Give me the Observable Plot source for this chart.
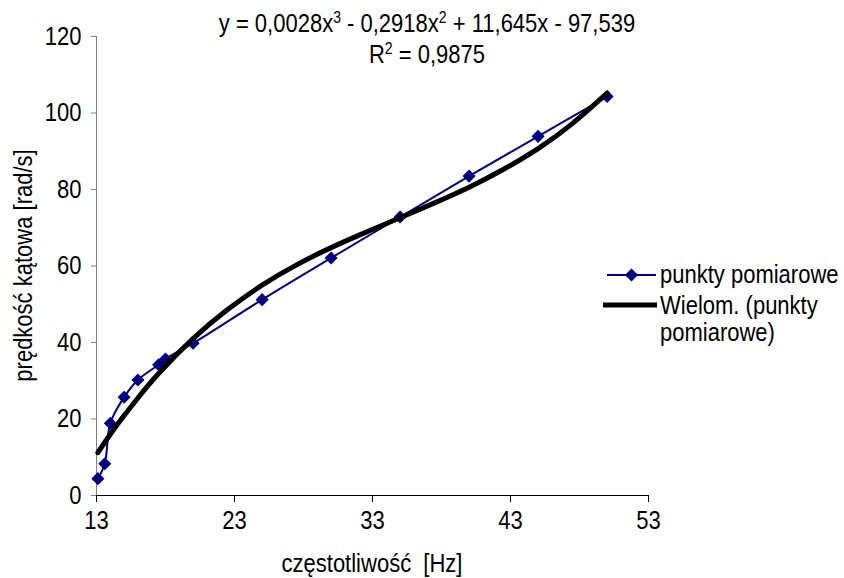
<!DOCTYPE html>
<html><head><meta charset="utf-8">
<script src="https://cdn.jsdelivr.net/npm/d3@7"></script>
<script src="https://cdn.jsdelivr.net/npm/@observablehq/plot@0.6"></script>
<style>
html,body{margin:0;padding:0;background:#fff;}
svg text{white-space:pre;}
</style>
</head><body><div id="chart"></div>
<script>
// measured points (punkty pomiarowe)
const frequency = [13.1, 13.6, 14.0, 15.0, 16.0, 17.5, 18.0, 20.0, 25.0, 30.0, 35.0, 40.0, 45.0, 50.0];
const angularVelocity = [4.4, 8.3, 18.9, 25.7, 30.2, 34.2, 35.7, 39.8, 51.2, 62.1, 72.8, 83.5, 93.9, 104.3];
// polynomial trendline (Wielom.)
const trendX = [13.1, 14, 15, 16, 17.5, 20, 22.5, 25, 27.5, 30, 32.5, 35, 37.5, 40, 42.5, 45, 47.5, 50];
const trendY = [11.2, 16.0, 20.9, 25.5, 31.9, 41.0, 48.6, 55.0, 60.3, 64.8, 68.8, 72.6, 76.5, 80.6, 85.3, 90.7, 97.3, 105.2];
// ticks
const xTicks = [13, 23, 33, 43, 53];
const yTicks = [0, 20, 40, 60, 80, 100, 120];
// texts
const xLabel = "częstotliwość  [Hz]";
const yLabel = "prędkość kątowa [rad/s]";
const seriesName = "punkty pomiarowe";
const trendNameLines = ["Wielom. (punkty", "pomiarowe)"];

const FONT = "'Liberation Sans', Arial, Helvetica, sans-serif";
const FS = 22;      // horizontal size
const VS = 25;      // vertical size (text in the reference is a little tall)
const W = 844, H = 578, ML = 96, MR = 196, MT = 36, MB = 83;

const points = frequency.map((f, i) => ({x: f, y: angularVelocity[i]}));
const trend = trendX.map((f, i) => ({x: f, y: trendY[i]}));

const svg = Plot.plot({
  width: W, height: H,
  marginLeft: ML, marginRight: MR, marginTop: MT, marginBottom: MB,
  style: {fontFamily: FONT, fontSize: FS + "px", color: "#000", background: "#fff", overflow: "visible"},
  x: {domain: [13, 53]},
  y: {domain: [0, 120]},
  marks: [
    Plot.axisY({ticks: yTicks, tickSize: 5, tickPadding: 10, stroke: "#808080", fill: "#000", label: null, fontSize: FS}),
    Plot.ruleX([13], {stroke: "#808080", strokeWidth: 1}),
    Plot.axisX({ticks: xTicks, tickSize: 7, tickPadding: 9, stroke: "#000", fill: "#000", label: null, fontSize: FS}),
    Plot.ruleY([0], {stroke: "#000", strokeWidth: 1}),
    Plot.line(points, {x: "x", y: "y", stroke: "#000080", strokeWidth: 2, curve: "catmull-rom"}),
    Plot.dot(points, {x: "x", y: "y", symbol: "diamond2", r: 5.9, fill: "#000080", stroke: "none"}),
    Plot.line(trend, {x: "x", y: "y", stroke: "#000", strokeWidth: 5, curve: "natural"})
  ]
});
document.getElementById("chart").appendChild(svg);

const s = d3.select(svg);
const g = s.append("g").attr("font-family", FONT).attr("font-size", FS).attr("fill", "#000").attr("text-anchor", "start");

// equation
const eq = g.append("text").attr("x", 427).attr("y", 32).attr("text-anchor", "middle");
eq.append("tspan").text("y = 0,0028x");
eq.append("tspan").attr("dy", -9).attr("font-size", 14).text("3");
eq.append("tspan").attr("dy", 9).text(" - 0,2918x");
eq.append("tspan").attr("dy", -9).attr("font-size", 14).text("2");
eq.append("tspan").attr("dy", 9).text(" + 11,645x - 97,539");
const r2 = g.append("text").attr("x", 427).attr("y", 63).attr("text-anchor", "middle");
r2.append("tspan").text("R");
r2.append("tspan").attr("dy", -9).attr("font-size", 14).text("2");
r2.append("tspan").attr("dy", 9).text(" = 0,9875");

// axis titles
g.append("text").attr("x", (ML + W - MR) / 2).attr("y", 572).attr("text-anchor", "middle").text(xLabel);
g.append("text").attr("transform", `translate(32,${(MT + H - MB) / 2}) rotate(-90)`).attr("text-anchor", "middle").text(yLabel);

// legend
const lg = g.append("g");
lg.append("line").attr("x1", 607).attr("x2", 656).attr("y1", 275).attr("y2", 275).attr("stroke", "#000080").attr("stroke-width", 2);
lg.append("path").attr("transform", "translate(631.5,275)").attr("d", d3.symbol(d3.symbolDiamond2, Math.PI * 5.9 * 5.9)()).attr("fill", "#000080");
lg.append("text").attr("x", 660).attr("y", 283).text(seriesName);
lg.append("line").attr("x1", 603).attr("x2", 657).attr("y1", 305).attr("y2", 305).attr("stroke", "#000").attr("stroke-width", 5);
lg.append("text").attr("x", 660).attr("y", 314).text(trendNameLines[0]);
lg.append("text").attr("x", 660).attr("y", 341).text(trendNameLines[1]);

// make the glyphs a little taller while keeping their width (as in the reference)
const k = VS / FS;
svg.querySelectorAll("text").forEach(t => {
  const spans = t.querySelectorAll("tspan");
  if (spans.length) {
    spans.forEach(sp => {
      const len = sp.getComputedTextLength();
      const fs = parseFloat(sp.getAttribute("font-size") || FS);
      sp.setAttribute("font-size", fs * k);
      sp.setAttribute("textLength", len);
      sp.setAttribute("lengthAdjust", "spacingAndGlyphs");
    });
  } else {
    const len = t.getComputedTextLength();
    t.style.fontSize = VS + "px";
    t.setAttribute("font-size", VS);
    t.setAttribute("textLength", len);
    t.setAttribute("lengthAdjust", "spacingAndGlyphs");
  }
});
</script>
</body></html>
